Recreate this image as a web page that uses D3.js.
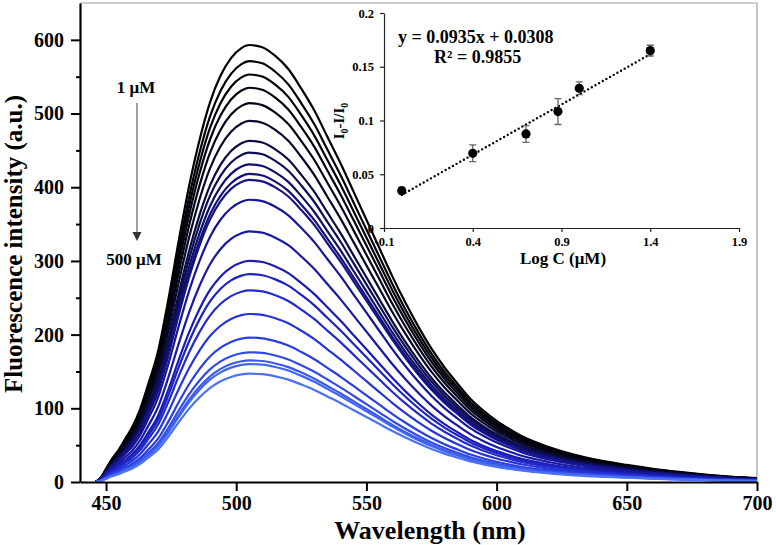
<!DOCTYPE html>
<meta charset="utf-8">
<style>
  body { margin: 0; background: #fff; }
  text { font-family: "Liberation Serif", "Times New Roman", serif; font-weight: bold; fill: #000; }
  .spectra path { fill: none; stroke-width: 2.2px; stroke-linejoin: round; }
</style>

<svg width="776" height="545"></svg>
<script src="https://cdn.jsdelivr.net/npm/d3@7/dist/d3.min.js"></script>

<script>
// shape of the top spectrum, as a fraction of its peak
const profile_wl = [446, 448, 450, 452, 455, 458, 460, 463, 466, 470, 474, 478, 482, 486, 490, 494, 498, 502, 505,
  510, 515, 520, 525, 530, 535, 540, 545, 550, 555, 560, 565, 570, 575, 580, 585, 590, 595, 600,
  605, 610, 620, 630, 640, 650, 660, 670, 680, 690, 700];
const profile_rel = [0, 0.01, 0.03, 0.05, 0.075, 0.105, 0.125, 0.165, 0.22, 0.3, 0.42, 0.555, 0.68, 0.785, 0.87, 0.93, 0.97, 0.993, 1,
  0.995, 0.975, 0.945, 0.9, 0.85, 0.79, 0.73, 0.665, 0.6, 0.535, 0.47, 0.41, 0.355, 0.305, 0.262, 0.225, 0.19, 0.163, 0.14,
  0.121, 0.104, 0.08, 0.062, 0.049, 0.039, 0.03, 0.023, 0.017, 0.012, 0.009];

// peak intensity of each spectrum, 1 uM (top) to 500 uM (bottom)
const peaks = [593, 571, 553, 535, 514, 490, 463, 447, 431, 418, 410, 383, 340, 300, 282, 260, 228, 196, 176, 165, 160, 147];

// inset: calibration points
const logC = [0, 0.4, 0.7, 0.88, 1.0, 1.4];
const response = [0.0347, 0.0695, 0.0875, 0.1083, 0.130, 0.165];
const errs = [0.003, 0.0078, 0.0078, 0.012, 0.006, 0.005];
const fit = { slope: 0.0935, intercept: 0.0308 };

const xTicks = [450, 500, 550, 600, 650, 700];
const yTicks = [0, 100, 200, 300, 400, 500, 600];
const insetXTicks = [-0.1, 0.4, 0.9, 1.4, 1.9];
const insetYTicks = [0, 0.05, 0.1, 0.15, 0.2];

const svg = d3.select("svg");

const x = d3.scaleLinear().domain([440, 700]).range([80, 757]);
const y = d3.scaleLinear().domain([0, 650]).range([482, 3]);

// frame top / right
svg.append("path")
  .attr("d", `M${x(440)},${y(650)}H${x(700)}V${y(0)}`)
  .attr("fill", "none").attr("stroke", "#a0a0a0").attr("stroke-width", 1.2);

const colour = d3.scaleLinear()
  .domain([0, 4, 8, 13, 17, 21])
  .range(["#000000", "#050518", "#10106a", "#1a1ab4", "#2a3ee2", "#4a72f2"])
  .interpolate(d3.interpolateRgb);

const line = d3.line()
  .x(d => x(d[0]))
  .y(d => y(d[1]))
  .curve(d3.curveMonotoneX);

svg.append("g").attr("class", "spectra")
  .selectAll("path")
  .data(peaks)
  .enter().append("path")
    .attr("stroke", (d, i) => colour(i))
    .attr("d", p => line(profile_wl.map((w, k) => [w, p * profile_rel[k]])));

// main axes
const xAxis = svg.append("g")
  .attr("transform", `translate(0,${y(0)})`)
  .call(d3.axisBottom(x).tickValues(xTicks).tickSize(9).tickPadding(5).tickSizeOuter(0));
const yAxis = svg.append("g")
  .attr("transform", `translate(${x(440)},0)`)
  .call(d3.axisLeft(y).tickValues(yTicks).tickSize(9).tickPadding(7).tickSizeOuter(0));
svg.append("g")
  .attr("transform", `translate(${x(440)},0)`)
  .call(d3.axisLeft(y).tickValues([50, 150, 250, 350, 450, 550]).tickSize(4).tickFormat(""))
  .call(g => g.select(".domain").remove());

[xAxis, yAxis].forEach(g => {
  g.select(".domain").attr("stroke-width", 2.2);
  g.selectAll("text").attr("font-size", 20).attr("font-family", "Liberation Serif").attr("font-weight", "bold");
});
svg.selectAll(".tick line").attr("stroke-width", 2);

svg.append("text")
  .attr("transform", "translate(22,244) rotate(-90)")
  .attr("text-anchor", "middle")
  .attr("font-size", 25)
  .text("Fluorescence intensity (a.u.)");

svg.append("text")
  .attr("x", 430).attr("y", 539)
  .attr("text-anchor", "middle")
  .attr("font-size", 26)
  .text("Wavelength (nm)");

// concentration arrow
svg.append("text").attr("x", 136).attr("y", 93).attr("text-anchor", "middle").attr("font-size", 17).text("1 μM");
svg.append("text").attr("x", 134).attr("y", 265).attr("text-anchor", "middle").attr("font-size", 17).text("500 μM");
svg.append("line")
  .attr("x1", 137).attr("x2", 137).attr("y1", 103).attr("y2", 234)
  .attr("stroke", "#808080").attr("stroke-width", 1.5);
svg.append("path")
  .attr("d", "M132.5,232 L141.5,232 L137,241 Z")
  .attr("fill", "#333");

// inset
const ix = d3.scaleLinear().domain([-0.1, 1.9]).range([384, 739]);
const iy = d3.scaleLinear().domain([0, 0.2]).range([228, 13]);
const inset = svg.append("g");

const iX = inset.append("g")
  .attr("transform", `translate(0,${iy(0)})`)
  .call(d3.axisBottom(ix).tickValues(insetXTicks).tickSize(4).tickPadding(5).tickSizeOuter(0)
    .tickFormat(d => d < 0 ? "-" + d3.format(".1f")(-d) : d3.format(".1f")(d)));
const iY = inset.append("g")
  .attr("transform", `translate(${ix(-0.1)},0)`)
  .call(d3.axisLeft(iy).tickValues(insetYTicks).tickSize(4).tickPadding(6).tickSizeOuter(0)
    .tickFormat(d => d === 0 ? "0" : String(+d.toFixed(2))));
[iX, iY].forEach(g => {
  g.select(".domain").attr("stroke", "#222").attr("stroke-width", 1.2);
  g.selectAll(".tick line").attr("stroke-width", 1.2).attr("stroke", "#222");
  g.selectAll("text").attr("font-size", 12.5).attr("font-family", "Liberation Serif").attr("font-weight", "bold");
});

inset.append("line")
  .attr("x1", ix(0)).attr("y1", iy(fit.intercept))
  .attr("x2", ix(1.4)).attr("y2", iy(fit.slope * 1.4 + fit.intercept))
  .attr("stroke", "#000").attr("stroke-width", 2.4)
  .attr("stroke-linecap", "round").attr("stroke-dasharray", "0,4.2");

const pts = inset.append("g").selectAll("g")
  .data(logC.map((c, i) => ({ c, v: response[i], e: errs[i] })))
  .enter().append("g");
pts.append("path")
  .attr("d", d => {
    const cx = ix(d.c), t = iy(d.v + d.e), b = iy(d.v - d.e);
    return `M${cx - 3.5},${t}H${cx + 3.5}M${cx},${t}V${b}M${cx - 3.5},${b}H${cx + 3.5}`;
  })
  .attr("stroke", "#666").attr("stroke-width", 1.3).attr("fill", "none");
pts.append("circle")
  .attr("cx", d => ix(d.c)).attr("cy", d => iy(d.v)).attr("r", 4.6)
  .attr("fill", "#000");

inset.append("text").attr("x", 398).attr("y", 43).attr("font-size", 18).text("y = 0.0935x + 0.0308");
inset.append("text").attr("x", 434).attr("y", 63).attr("font-size", 18).text("R² = 0.9855");

inset.append("text")
  .attr("x", 563).attr("y", 264)
  .attr("text-anchor", "middle")
  .attr("font-size", 17)
  .text("Log C (μM)");

const iyl = inset.append("text")
  .attr("transform", "translate(344,121) rotate(-90)")
  .attr("text-anchor", "middle")
  .attr("font-size", 15);
iyl.append("tspan").text("I");
iyl.append("tspan").attr("font-size", 10).attr("dy", 4).text("0");
iyl.append("tspan").attr("dy", -4).text("-I/I");
iyl.append("tspan").attr("font-size", 10).attr("dy", 4).text("0");
</script>
